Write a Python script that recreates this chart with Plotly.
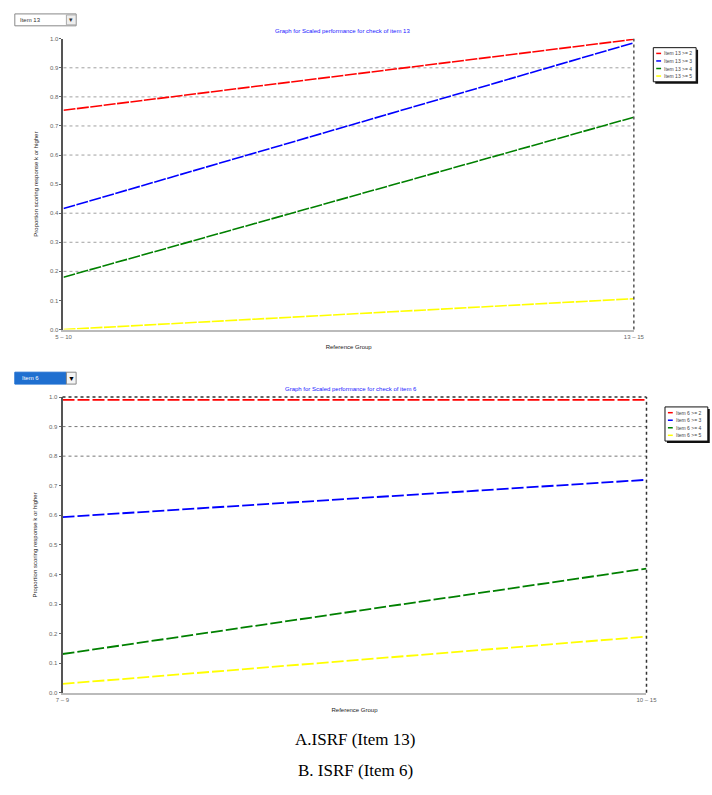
import plotly.graph_objects as go

# ---------------- data ----------------
groups_a = ["5 – 10", "13 – 15"]
series_names_a = ["Item 13 >= 2", "Item 13 >= 3", "Item 13 >= 4", "Item 13 >= 5"]
values_a = [
    [0.754, 0.998],
    [0.416, 0.986],
    [0.180, 0.730],
    [0.000, 0.106],
]
grid_a = [0.2, 0.3, 0.4, 0.6, 0.7, 0.8, 0.9]

groups_b = ["7 – 9", "10 – 15"]
series_names_b = ["Item 6 >= 2", "Item 6 >= 3", "Item 6 >= 4", "Item 6 >= 5"]
values_b = [
    [0.990, 0.990],
    [0.594, 0.720],
    [0.131, 0.420],
    [0.030, 0.190],
]
grid_b = [0.8, 0.9]

colors = ["#ff0000", "#0000ff", "#008000", "#ffff00"]
y_ticks = [0.0, 0.1, 0.2, 0.3, 0.4, 0.5, 0.6, 0.7, 0.8, 0.9, 1.0]

W, H = 712, 795


def px_x(p):
    return p / W


def px_y(p):
    return 1 - p / H


fig = go.Figure()

for name, vals, col in zip(series_names_a, values_a, colors):
    fig.add_trace(go.Scatter(
        x=groups_a, y=vals, name=name, mode="lines",
        line=dict(color=col, width=1.6, dash="12px,1.5px"),
        xaxis="x", yaxis="y",
    ))

for name, vals, col in zip(series_names_b, values_b, colors):
    fig.add_trace(go.Scatter(
        x=groups_b, y=vals, name=name, mode="lines",
        line=dict(color=col, width=1.8, dash="12px,3px"),
        xaxis="x2", yaxis="y2",
    ))

tick_font = dict(family="Arial", size=6, color="#666666")

axis_common_y = dict(
    range=[0, 1], tickvals=y_ticks, tickformat=".1f",
    showgrid=False,
    showline=True, linecolor="#555555", linewidth=2,
    ticks="outside", ticklen=2, tickcolor="#666666",
    tickfont=tick_font, zeroline=False,
    title=dict(text="Proportion scoring response k or higher",
               font=dict(family="Arial", size=6, color="#222222"), standoff=11),
)
axis_common_x = dict(
    type="category", range=[0, 1],
    showgrid=False, showline=True, linecolor="#bbbbbb", linewidth=2,
    ticks="", tickfont=tick_font, zeroline=False,
    title=dict(font=dict(family="Arial", size=6, color="#222222"), standoff=6),
)

fig.update_layout(
    width=W, height=H,
    margin=dict(l=0, r=0, t=0, b=0),
    paper_bgcolor="white", plot_bgcolor="white",
    showlegend=False,
    xaxis=dict(axis_common_x, domain=[px_x(57), px_x(643)], anchor="y",
               title=dict(axis_common_x["title"], text="Reference Group")),
    yaxis=dict(axis_common_y, domain=[px_y(329), px_y(36)], anchor="x"),
    xaxis2=dict(axis_common_x, domain=[px_x(56), px_x(656)], anchor="y2",
                title=dict(axis_common_x["title"], text="Reference Group")),
    yaxis2=dict(axis_common_y, domain=[px_y(695), px_y(397)], anchor="x2"),
)

shapes = []
annotations = []

# dotted gridlines
for g in grid_a:
    shapes.append(dict(type="line", xref="x domain", yref="y", x0=0, x1=1, y0=g, y1=g,
                       layer="below", line=dict(color="#a0a0a0", width=1, dash="dot")))
for g in grid_b:
    shapes.append(dict(type="line", xref="x2 domain", yref="y2", x0=0, x1=1, y0=g, y1=g,
                       layer="below", line=dict(color="#777777", width=1, dash="dot")))

# right dotted border of top plot
shapes.append(dict(type="line", xref="x domain", yref="y domain", x0=1, x1=1, y0=0, y1=1,
                   line=dict(color="#555555", width=1.5, dash="dot")))
# top and right dotted border of bottom plot
shapes.append(dict(type="line", xref="x2 domain", yref="y2 domain", x0=1, x1=1, y0=0, y1=1,
                   line=dict(color="#333333", width=1.5, dash="dot")))
shapes.append(dict(type="line", xref="x2 domain", yref="y2 domain", x0=0, x1=1, y0=1, y1=1,
                   line=dict(color="#333333", width=1.5, dash="dot")))


# manual compact legends (legend box with drop shadow)
def add_legend(names, left, top, width, row_h):
    height = row_h * len(names) + 4
    shapes.append(dict(type="rect", xref="paper", yref="paper",
                       x0=px_x(left + 2), x1=px_x(left + width + 2),
                       y0=px_y(top + height + 2), y1=px_y(top + 2),
                       fillcolor="#111111", line=dict(width=0)))
    shapes.append(dict(type="rect", xref="paper", yref="paper",
                       x0=px_x(left), x1=px_x(left + width),
                       y0=px_y(top + height), y1=px_y(top),
                       fillcolor="white", line=dict(color="#111111", width=1)))
    for i, (nm, col) in enumerate(zip(names, colors)):
        yy = top + 2 + row_h * (i + 0.5)
        shapes.append(dict(type="line", xref="paper", yref="paper",
                           x0=px_x(left + 3), x1=px_x(left + 8),
                           y0=px_y(yy), y1=px_y(yy),
                           line=dict(color=col, width=1.5)))
        annotations.append(dict(text=nm, xref="paper", yref="paper",
                                x=px_x(left + 9), y=px_y(yy),
                                xanchor="left", yanchor="middle", showarrow=False,
                                font=dict(family="Arial", size=5, color="#444444")))


add_legend(series_names_a, 663, 45, 44, 7.6)
add_legend(series_names_b, 675, 407, 44, 7.6)

# dropdown boxes
shapes.append(dict(type="rect", xref="paper", yref="paper",
                   x0=px_x(7), x1=px_x(70), y0=px_y(23), y1=px_y(11),
                   fillcolor="white", line=dict(color="#888888", width=1)))
shapes.append(dict(type="rect", xref="paper", yref="paper",
                   x0=px_x(60), x1=px_x(70), y0=px_y(22), y1=px_y(12),
                   fillcolor="#eeeeee", line=dict(color="#aaaaaa", width=1)))
annotations.append(dict(text="Item 13", xref="paper", yref="paper", x=px_x(10), y=px_y(17),
                        xanchor="left", yanchor="middle", showarrow=False,
                        font=dict(family="Arial", size=6, color="#333333")))
annotations.append(dict(text="▾", xref="paper", yref="paper", x=px_x(65), y=px_y(17),
                        xanchor="center", yanchor="middle", showarrow=False,
                        font=dict(family="Arial", size=7, color="#333333")))

shapes.append(dict(type="rect", xref="paper", yref="paper",
                   x0=px_x(7), x1=px_x(60), y0=px_y(384), y1=px_y(372),
                   fillcolor="#1f6fd0", line=dict(color="#1f6fd0", width=1)))
shapes.append(dict(type="rect", xref="paper", yref="paper",
                   x0=px_x(60), x1=px_x(70), y0=px_y(384), y1=px_y(372),
                   fillcolor="#f4f4f4", line=dict(color="#888888", width=1)))
annotations.append(dict(text="Item 6", xref="paper", yref="paper", x=px_x(12), y=px_y(378),
                        xanchor="left", yanchor="middle", showarrow=False,
                        font=dict(family="Arial", size=6, color="white")))
annotations.append(dict(text="▼", xref="paper", yref="paper", x=px_x(65), y=px_y(378),
                        xanchor="center", yanchor="middle", showarrow=False,
                        font=dict(family="Arial", size=7, color="black")))

# chart titles
annotations.append(dict(text="Graph for Scaled performance for check of item 13",
                        xref="paper", yref="paper", x=px_x(344), y=px_y(28),
                        xanchor="center", yanchor="middle", showarrow=False,
                        font=dict(family="Arial", size=6, color="#2020ff")))
annotations.append(dict(text="Graph for Scaled performance for check of item 6",
                        xref="paper", yref="paper", x=px_x(352), y=px_y(389),
                        xanchor="center", yanchor="middle", showarrow=False,
                        font=dict(family="Arial", size=6, color="#2020ff")))

# captions
annotations.append(dict(text="A.ISRF (Item 13)", xref="paper", yref="paper",
                        x=px_x(357), y=px_y(742), xanchor="center", yanchor="middle",
                        showarrow=False,
                        font=dict(family="Liberation Serif", size=17, color="black")))
annotations.append(dict(text="B. ISRF (Item 6)", xref="paper", yref="paper",
                        x=px_x(357), y=px_y(773), xanchor="center", yanchor="middle",
                        showarrow=False,
                        font=dict(family="Liberation Serif", size=17, color="black")))

fig.update_layout(shapes=shapes, annotations=annotations)

fig.write_html(
    "out.html",
    config={"displayModeBar": False},
    post_script="document.body.style.margin='0';document.body.style.overflow='hidden';",
)
